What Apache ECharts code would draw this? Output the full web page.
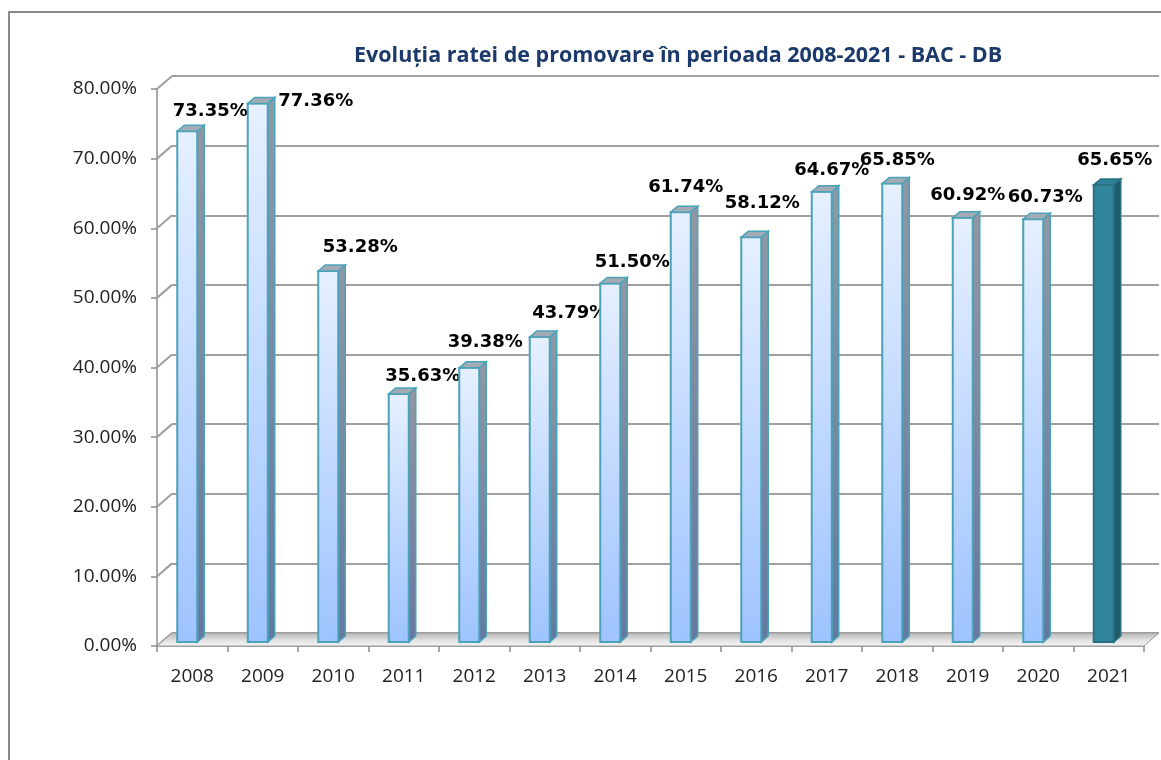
<!DOCTYPE html>
<html>
<head>
<meta charset="utf-8">
<title>Evoluția ratei de promovare 2008-2021</title>
<script src="https://cdn.jsdelivr.net/npm/echarts@6/dist/echarts.min.js"></script>
<style>
  html, body { margin: 0; padding: 0; background: #fff; }
  #chart { width: 1161px; height: 760px; }
</style>
</head>
<body>
<div id="chart"></div>
<script>
// data
var years = ['2008', '2009', '2010', '2011', '2012', '2013', '2014', '2015', '2016', '2017', '2018', '2019', '2020', '2021'];
var rates = [73.35, 77.36, 53.28, 35.63, 39.38, 43.79, 51.50, 61.74, 58.12, 64.67, 65.85, 60.92, 60.73, 65.65];
var yTicks = [0, 10, 20, 30, 40, 50, 60, 70, 80];
var highlightYear = '2021';

// hand placed value labels (px, from the bar top), like in the original sheet
var labelDx = [18, 53, 27, 19, 11, 25, 17, 0, 6, 5, 0, 0, 7, 6];
var labelDy = [-24, -6, -28, -22, -29, -28, -25, -29, -38, -25, -27, -27, -26, -29];

var WALL_X = 15, WALL_Y = 13;   // back wall offset
var BAR_X = 7, BAR_Y = 6;       // bar depth

var chart = echarts.init(document.getElementById('chart'));

function renderBar(params, api) {
  var i = api.value(0), v = api.value(1);
  var top = api.coord([i, v]);
  var base = api.coord([i, 0]);
  var cx = top[0];
  var yt = top[1] - 4, yb = base[1] - 4;
  var x0 = cx - 15, x1 = cx + 5;
  var hot = years[i] === highlightYear;

  var front = hot ? '#31859C' : new echarts.graphic.LinearGradient(0, 0, 0, 1, [
    {offset: 0, color: '#E6F0FF'}, {offset: 1, color: '#9EC3FF'}
  ]);
  var side = hot ? '#215A69' : new echarts.graphic.LinearGradient(0, 0, 0, 1, [
    {offset: 0, color: '#9098A4'}, {offset: 1, color: '#6478A0'}
  ]);
  var lid = hot ? '#2F8197' : '#A3ABB5';
  var edge = hot ? '#2A7083' : '#4BA3BA';

  return {
    type: 'group',
    children: [
      {
        type: 'polygon',
        shape: {points: [[x1, yt], [x1 + BAR_X, yt - BAR_Y], [x1 + BAR_X, yb - BAR_Y], [x1, yb]]},
        style: {fill: side, stroke: edge, lineWidth: 1.5}
      },
      {
        type: 'rect',
        shape: {x: x0, y: yt, width: x1 - x0, height: yb - yt},
        style: {fill: front, stroke: edge, lineWidth: 2}
      },
      {
        type: 'polygon',
        shape: {points: [[x0, yt], [x0 + BAR_X, yt - BAR_Y], [x1 + BAR_X, yt - BAR_Y], [x1, yt]]},
        style: {fill: lid, stroke: edge, lineWidth: 1.5}
      },
      {
        type: 'text',
        x: cx + labelDx[i],
        y: top[1] + labelDy[i],
        style: {
          text: v.toFixed(2) + '%',
          align: 'center',
          verticalAlign: 'middle',
          fontFamily: 'DejaVu Sans',
          fontWeight: 'bold',
          fontSize: 18,
          fill: '#000'
        }
      }
    ]
  };
}

// floor slab under the bars
function renderFloor(params, api) {
  var cs = params.coordSys;
  var yb = cs.y + cs.height;
  return {
    type: 'polygon',
    shape: {points: [[cs.x, yb], [cs.x + cs.width, yb], [cs.x + cs.width + WALL_X, yb - WALL_Y], [cs.x + WALL_X, yb - WALL_Y]]},
    style: {
      fill: new echarts.graphic.LinearGradient(0, 0, 0, 1, [
        {offset: 0, color: '#B5B5B5'}, {offset: 0.6, color: '#E4E4E4'}, {offset: 1, color: '#F7F7F7'}
      ]),
      stroke: '#9A9A9A',
      lineWidth: 1
    }
  };
}

// diagonal grid lines on the left wall
function renderWallLine(params, api) {
  var cs = params.coordSys;
  var y = api.coord([0, api.value(0)])[1];
  return {
    type: 'line',
    shape: {x1: cs.x, y1: y, x2: cs.x + WALL_X, y2: y - WALL_Y},
    style: {stroke: '#A0A0A0', lineWidth: 2}
  };
}

var option = {
  animation: false,
  backgroundColor: '#fff',
  title: {
    text: 'Evoluția ratei de promovare în perioada 2008-2021 - BAC - DB',
    left: 349,
    top: 40,
    textStyle: {
      fontFamily: 'Open Sans',
      fontWeight: 'bold',
      fontSize: 21.5,
      color: '#1B3A6B'
    }
  },
  graphic: [
    {
      type: 'rect',
      z: -10,
      shape: {x: 9, y: 12, width: 1400, height: 1000},
      style: {fill: 'none', stroke: '#8A8A8A', lineWidth: 2}
    }
  ],
  grid: [
    {left: 157, right: 17, top: 89, bottom: 114},   // front plane
    {left: 157 + WALL_X, right: 17 - WALL_X, top: 89 - WALL_Y, bottom: 114 + WALL_Y}   // back wall
  ],
  xAxis: [
    {
      type: 'category',
      gridIndex: 0,
      data: years,
      axisLine: {lineStyle: {color: '#8C8C8C', width: 1.5}},
      axisTick: {show: true, length: 6, lineStyle: {color: '#8C8C8C', width: 1.5}},
      axisLabel: {
        margin: 21,
        fontFamily: 'Open Sans',
        fontSize: 19,
        color: '#222'
      },
      splitLine: {show: false}
    },
    {
      type: 'category',
      gridIndex: 1,
      data: years,
      show: false
    }
  ],
  yAxis: [
    {
      type: 'value',
      gridIndex: 0,
      min: 0,
      max: 80,
      interval: 10,
      axisLine: {show: true, lineStyle: {color: '#8C8C8C', width: 1.5}},
      axisTick: {show: true, length: 6, lineStyle: {color: '#8C8C8C', width: 1.5}},
      axisLabel: {
        margin: 20,
        fontFamily: 'Open Sans',
        fontSize: 19,
        color: '#222',
        formatter: function (v) { return v.toFixed(2) + '%'; }
      },
      splitLine: {show: false}
    },
    {
      type: 'value',
      gridIndex: 1,
      min: 0,
      max: 80,
      interval: 10,
      axisLine: {show: false},
      axisTick: {show: false},
      axisLabel: {show: false},
      splitLine: {show: true, lineStyle: {color: '#A0A0A0', width: 2}}
    }
  ],
  series: [
    {
      type: 'custom',
      name: 'wall',
      xAxisIndex: 0,
      yAxisIndex: 0,
      z: 1,
      renderItem: renderWallLine,
      data: yTicks.map(function (t) { return [t]; }),
      encode: {y: 0},
      silent: true
    },
    {
      type: 'custom',
      name: 'floor',
      xAxisIndex: 0,
      yAxisIndex: 0,
      z: 1,
      renderItem: renderFloor,
      data: [[0, 0]],
      silent: true
    },
    {
      type: 'custom',
      name: 'Rata de promovare',
      xAxisIndex: 0,
      yAxisIndex: 0,
      z: 3,
      renderItem: renderBar,
      encode: {x: 0, y: 1},
      data: rates.map(function (v, i) { return [i, v]; })
    }
  ]
};

chart.setOption(option);
window.addEventListener('resize', function () {
  chart.resize();
});
</script>
</body>
</html>
